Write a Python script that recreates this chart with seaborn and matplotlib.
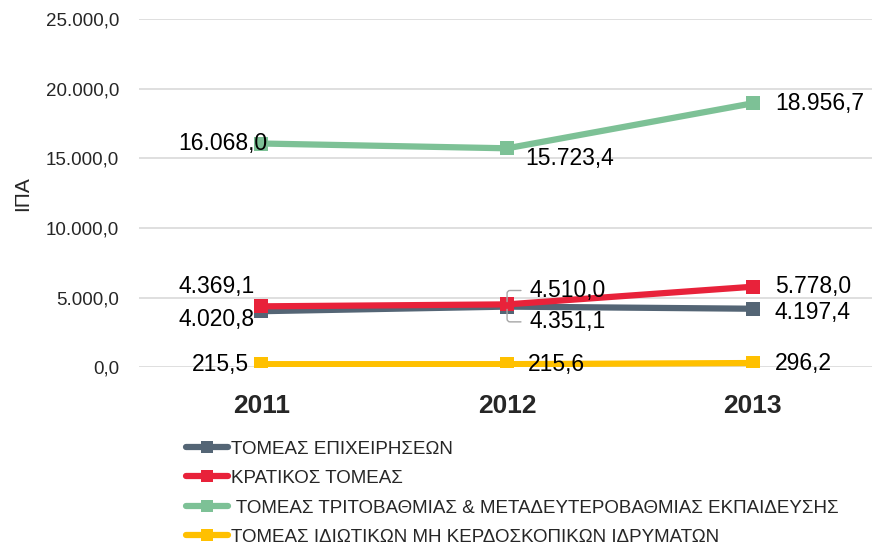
import matplotlib
matplotlib.use("Agg")
import matplotlib.pyplot as plt
import seaborn as sns
import pandas as pd
from matplotlib.lines import Line2D

years = ["2011", "2012", "2013"]
series_names = [
    "ΤΟΜΕΑΣ ΕΠΙΧΕΙΡΗΣΕΩΝ",
    "ΚΡΑΤΙΚΟΣ ΤΟΜΕΑΣ",
    " ΤΟΜΕΑΣ ΤΡΙΤΟΒΑΘΜΙΑΣ & ΜΕΤΑΔΕΥΤΕΡΟΒΑΘΜΙΑΣ ΕΚΠΑΙΔΕΥΣΗΣ",
    "ΤΟΜΕΑΣ ΙΔΙΩΤΙΚΩΝ ΜΗ ΚΕΡΔΟΣΚΟΠΙΚΩΝ ΙΔΡΥΜΑΤΩΝ",
]
business = [4020.8, 4351.1, 4197.4]
government = [4369.1, 4510.0, 5778.0]
higher_edu = [16068.0, 15723.4, 18956.7]
nonprofit = [215.5, 215.6, 296.2]
colors = ["#546575", "#E8223A", "#7DC196", "#FFC000"]

def fmt(v):
    s = f"{v:,.1f}"
    return s.replace(",", "X").replace(".", ",").replace("X", ".")

sns.set_style("white")
plt.rcParams["font.family"] = ["Liberation Sans", "DejaVu Sans"]

fig = plt.figure(figsize=(8.72, 5.48), dpi=100)
ax = fig.add_axes([0.159, 0.330, 0.845, 0.635])

all_vals = [business, government, higher_edu, nonprofit]
# label offsets in points per series/year (dx, dy, ha)
offsets = [
    [(-5, -6, "right"), (16, -11, "left"), (16, -3, "left")],
    [(-5, 14, "right"), (16, 10, "left"), (16, 0, "left")],
    [(4, 0, "right"), (13, -7, "left"), (16, 0, "left")],
    [(-9, 0, "right"), (15, 0, "left"), (16, 0, "left")],
]
draw_order = [3, 0, 1, 2]
for i in draw_order:
    df = pd.DataFrame({"year": years, "value": all_vals[i]})
    sns.lineplot(data=df, x="year", y="value", ax=ax, color=colors[i],
                 linewidth=4.5, marker="s", markersize=10.5,
                 markeredgewidth=0, sort=False)
    for j, v in enumerate(all_vals[i]):
        dx, dy, ha = offsets[i][j]
        ax.annotate(fmt(v), (j, v), xytext=(dx, dy), textcoords="offset points",
                    ha=ha, va="center", fontsize=16.5, color="black")

# small leader brackets at 2012
for v, dy in [(4510.0, 10), (4351.1, -11)]:
    ax.annotate("", (1, v), xytext=(12, dy), textcoords="offset points",
                arrowprops=dict(arrowstyle="-", color="#A6A6A6", lw=1,
                                connectionstyle="angle,angleA=0,angleB=90,rad=3"))

ax.set_xlim(-0.5, 2.5)
ax.set_ylim(0, 25000)
ax.set_yticks([0, 5000, 10000, 15000, 20000, 25000])
ax.set_yticklabels([fmt(t) for t in ax.get_yticks()], fontsize=13.5)
ax.set_xticks([0, 1, 2])
ax.set_xticklabels(years, fontsize=19, fontweight="bold")
ax.tick_params(axis="x", pad=19, length=0)
ax.tick_params(axis="y", length=0, pad=14)
ax.yaxis.grid(True, color="#D9D9D9", linewidth=1.2)
ax.set_axisbelow(True)
for s in ax.spines.values():
    s.set_visible(False)
ax.set_xlabel("")
ax.set_ylabel("ΙΠΑ", fontsize=15, labelpad=10)

handles = [Line2D([0], [0], color=c, linewidth=4.5, marker="s", markersize=9,
                  markeredgewidth=0) for c in colors]
fig.legend(handles, series_names, loc="upper left", bbox_to_anchor=(0.205, 0.21),
           frameon=False, fontsize=13.5, handlelength=2.2, handletextpad=0.2,
           labelspacing=0.66, borderaxespad=0)

fig.savefig("out.png", dpi=100)
